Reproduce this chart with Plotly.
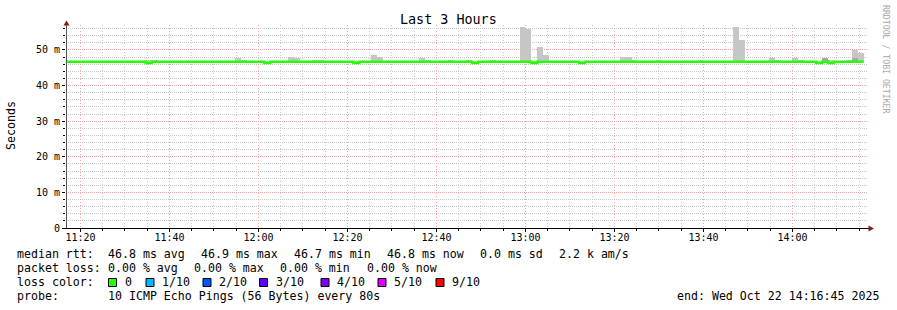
import plotly.graph_objects as go
import pandas as pd

# ---------------- data ----------------
start_time = "2025-10-22 11:16:00"   # first 80 s step
step_period = "80s"
view_start = "2025-10-22 11:16:45"
view_end = "2025-10-22 14:16:45"

median_ms = [
    46.65, 46.65, 46.65, 46.65, 46.65, 46.65, 46.65, 46.65, 46.65, 46.65, 46.65, 46.65, 46.65, 46.65, 46.3,
    46.65, 46.65, 46.65, 46.65, 46.65, 46.65, 46.65, 46.65, 46.65, 46.65, 46.65, 46.65, 46.65, 46.65, 46.65,
    46.65, 46.65, 46.65, 46.65, 46.3, 46.65, 46.65, 46.65, 46.65, 46.65, 46.65, 46.65, 46.65, 46.65, 46.65,
    46.65, 46.65, 46.65, 46.65, 46.3, 46.65, 46.65, 46.65, 46.65, 46.65, 46.65, 46.65, 46.65, 46.65, 46.65,
    46.65, 46.65, 46.65, 46.65, 46.65, 46.65, 46.65, 46.65, 46.65, 46.3, 46.65, 46.65, 46.65, 46.65, 46.65,
    46.65, 46.65, 46.65, 46.65, 46.3, 46.65, 46.65, 46.65, 46.65, 46.65, 46.65, 46.65, 46.3, 46.65, 46.65,
    46.65, 46.65, 46.65, 46.65, 46.65, 46.65, 46.65, 46.65, 46.65, 46.65, 46.65, 46.65, 46.65, 46.65, 46.65,
    46.65, 46.65, 46.65, 46.65, 46.65, 46.65, 46.65, 46.65, 46.65, 46.65, 46.65, 46.65, 46.65, 46.65, 46.65,
    46.65, 46.65, 46.65, 46.65, 46.65, 46.65, 46.65, 46.3, 46.65, 46.3, 46.65, 46.65, 46.65, 46.65, 46.65,
]

smoke_min_ms = [
    46.5, 46.5, 46.5, 46.5, 46.5, 46.5, 46.5, 46.5, 46.5, 46.5, 46.5, 46.5, 46.5, 46.5, 46.2,
    46.5, 46.5, 46.5, 46.5, 46.5, 46.5, 46.5, 46.5, 46.5, 46.5, 46.5, 46.5, 46.5, 46.5, 46.5,
    46.5, 46.5, 46.5, 46.5, 46.2, 46.5, 46.5, 46.5, 46.5, 46.5, 46.5, 46.5, 46.5, 46.5, 46.5,
    46.5, 46.5, 46.5, 46.5, 46.2, 46.5, 46.5, 46.5, 46.5, 46.5, 46.5, 46.5, 46.5, 46.5, 46.5,
    46.5, 46.5, 46.5, 46.5, 46.5, 46.5, 46.5, 46.5, 46.5, 46.2, 46.5, 46.5, 46.5, 46.5, 46.5,
    46.5, 46.5, 46.5, 46.5, 46.2, 46.5, 46.5, 46.5, 46.5, 46.5, 46.5, 46.5, 46.2, 46.5, 46.5,
    46.5, 46.5, 46.5, 46.5, 46.5, 46.5, 46.5, 46.5, 46.5, 46.5, 46.5, 46.5, 46.5, 46.5, 46.5,
    46.5, 46.5, 46.5, 46.5, 46.5, 46.5, 46.5, 46.5, 46.5, 46.5, 46.5, 46.5, 46.5, 46.5, 46.5,
    46.5, 46.5, 46.5, 46.5, 46.5, 46.5, 46.5, 46.2, 46.5, 46.2, 46.5, 46.5, 46.5, 46.5, 46.5,
]

smoke_max_ms = [
    46.9, 46.9, 46.9, 46.9, 46.9, 46.9, 46.9, 46.9, 46.9, 46.9, 46.9, 46.9, 46.9, 46.9, 47.2,
    47.2, 46.9, 46.9, 46.9, 46.9, 46.9, 46.9, 46.9, 46.9, 46.9, 46.9, 46.9, 46.9, 46.9, 47.6,
    47.2, 46.9, 46.9, 46.9, 46.9, 46.9, 46.9, 46.9, 48.1, 47.6, 46.9, 46.9, 47.2, 47.2, 46.9,
    46.9, 46.9, 46.9, 46.9, 46.9, 46.9, 46.9, 48.6, 48.1, 46.9, 46.9, 46.9, 46.9, 46.9, 46.9,
    47.6, 47.2, 46.9, 46.9, 46.9, 47.2, 46.9, 46.9, 47.2, 46.9, 46.9, 46.9, 47.2, 46.9, 46.9,
    46.9, 46.9, 56.3, 56.0, 46.9, 50.7, 48.7, 46.9, 46.9, 46.9, 46.9, 46.9, 46.9, 46.9, 46.9,
    46.9, 46.9, 46.9, 46.9, 48.1, 48.1, 47.2, 46.9, 46.9, 46.9, 47.2, 46.9, 46.9, 46.9, 46.9,
    46.9, 46.9, 47.2, 46.9, 46.9, 46.9, 46.9, 46.9, 56.3, 52.9, 46.9, 46.9, 46.9, 46.9, 47.6,
    47.2, 46.9, 46.9, 47.8, 47.2, 46.9, 46.9, 46.9, 47.6, 47.2, 46.9, 46.9, 47.2, 50.0, 49.2,
]

dark_step_index = [128, 133]
dark_top_ms = [47.6, 47.6]

y_tick_vals = [0, 10, 20, 30, 40, 50]
y_tick_text = ["0", "10 m", "20 m", "30 m", "40 m", "50 m"]

title_text = "Last 3 Hours"
y_title = "Seconds"
rtt_label = "median rtt:"
rtt_stats = ["46.8 ms avg", "46.9 ms max", "46.7 ms min", "46.8 ms now", "0.0 ms sd", "2.2 k am/s"]
loss_label = "packet loss:"
loss_stats = ["0.00 % avg", "0.00 % max", "0.00 % min", "0.00 % now"]
color_label = "loss color:"
loss_labels = ["0", "1/10", "2/10", "3/10", "4/10", "5/10", "9/10"]
loss_colors = ["#26ff00", "#00b8ff", "#0059ff", "#5e00ff", "#7e00ff", "#dd00ff", "#ff0000"]
probe_label = "probe:"
probe_text = "10 ICMP Echo Pings (56 Bytes) every 80s"
end_text = "end: Wed Oct 22 14:16:45 2025"
watermark = "RRDTOOL / TOBI OETIKER"

# ---------------- layout geometry (pixels) ----------------
W, H = 897, 310
L, R, T, B = 66, 30, 25, 82
PW, PH = W - L - R, H - T - B
FONT = "DejaVu Sans Mono"


def px(xp):
    return (xp - L) / PW


def py(yp):
    return (H - B - yp) / PH


step_times = pd.date_range(start_time, periods=len(median_ms), freq=step_period)
step_ms = pd.Timedelta(step_period).total_seconds() * 1000

fig = go.Figure()

# smoke (min..max of pings)
fig.add_trace(go.Bar(
    x=step_times, y=[mx - mn for mx, mn in zip(smoke_max_ms, smoke_min_ms)], base=smoke_min_ms,
    width=step_ms, offset=0, marker=dict(color="#c6c6c6", line=dict(width=0)),
    hoverinfo="skip", showlegend=False,
))
# darker inner smoke
fig.add_trace(go.Bar(
    x=[step_times[i] for i in dark_step_index],
    y=[t - smoke_min_ms[i] for i, t in zip(dark_step_index, dark_top_ms)],
    base=[smoke_min_ms[i] for i in dark_step_index],
    width=step_ms, offset=0, marker=dict(color="#a8a8a8", line=dict(width=0)),
    hoverinfo="skip", showlegend=False,
))
# median line
line_x = list(step_times) + [step_times[-1] + pd.Timedelta(step_period)]
line_y = median_ms + [median_ms[-1]]
fig.add_trace(go.Scatter(
    x=line_x, y=line_y, mode="lines", line=dict(color=loss_colors[0], width=2.5, shape="hv"),
    hoverinfo="skip", showlegend=False,
))

grid_minor = "#c8c8c8"
grid_major = "#f4a4a4"

fig.update_layout(
    width=W, height=H, margin=dict(l=L, r=R, t=T, b=B, pad=0),
    paper_bgcolor="white", plot_bgcolor="white",
    barmode="overlay", bargap=0,
    font=dict(family=FONT, color="#000000"),
    xaxis=dict(
        type="date", range=[view_start, view_end], tickformat="%H:%M",
        tick0="2025-10-22 11:00:00", dtick=20 * 60 * 1000,
        showgrid=True, gridcolor=grid_major, griddash="1px,2px", gridwidth=1,
        ticks="outside", ticklen=3, tickcolor="#000000", ticklabelstandoff=-3,
        minor=dict(tick0="2025-10-22 11:00:00", dtick=5 * 60 * 1000, showgrid=True,
                   gridcolor=grid_minor, griddash="1px,2px", gridwidth=1,
                   ticks="outside", ticklen=2, tickcolor="#000000"),
        showline=False, zeroline=False, tickfont=dict(family=FONT, size=10, color="#000000"),
        fixedrange=True,
    ),
    yaxis=dict(
        range=[0, 57], tickvals=y_tick_vals, ticktext=y_tick_text,
        showgrid=True, gridcolor=grid_major, griddash="1px,1px", gridwidth=1,
        ticks="outside", ticklen=3, tickcolor="#000000",
        minor=dict(dtick=2, showgrid=True, gridcolor=grid_minor, griddash="1px,1px",
                   gridwidth=1, ticks="outside", ticklen=2, tickcolor="#000000"),
        showline=False, zeroline=False, tickfont=dict(family=FONT, size=10, color="#000000"),
        fixedrange=True,
    ),
)

shapes = []
# axis lines
shapes.append(dict(type="line", xref="paper", yref="paper", x0=px(66.5), x1=px(66.5), y0=py(228), y1=py(24),
                   line=dict(color="#555555", width=1)))
shapes.append(dict(type="line", xref="paper", yref="paper", x0=px(62), x1=px(869), y0=py(228.5), y1=py(228.5),
                   line=dict(color="#000000", width=1)))
arrow_col = "#8b1a1a"
shapes.append(dict(type="path", xref="paper", yref="paper",
                   path=f"M {px(66.5)} {py(20.5)} L {px(63.5)} {py(25.5)} L {px(69.5)} {py(25.5)} Z",
                   fillcolor=arrow_col, line=dict(color=arrow_col, width=0)))
shapes.append(dict(type="path", xref="paper", yref="paper",
                   path=f"M {px(874)} {py(228.5)} L {px(868.5)} {py(225.5)} L {px(868.5)} {py(231.5)} Z",
                   fillcolor=arrow_col, line=dict(color=arrow_col, width=0)))

annotations = []


def add_text(text, x_px, y_px, size=11.6, xanchor="left", color="#000000", angle=0):
    annotations.append(dict(text=text, x=px(x_px), y=py(y_px), xref="paper", yref="paper",
                            xanchor=xanchor, yanchor="middle", showarrow=False, borderpad=0,
                            textangle=angle, font=dict(family=FONT, size=size, color=color)))


add_text(title_text, 448.5, 19.5, size=13.4, xanchor="center")
add_text(y_title, 11, 126, xanchor="center", angle=-90)
add_text(watermark, 886, 59, size=8.2, xanchor="center", color="#a8a8a8", angle=90)

row_y = [254, 268, 282, 296]
add_text(rtt_label, 16, row_y[0])
for s, xp in zip(rtt_stats, [107, 200, 293, 386, 479, 558]):
    add_text(s, xp, row_y[0])
add_text(loss_label, 16, row_y[1])
for s, xp in zip(loss_stats, [107, 193, 279, 366]):
    add_text(s, xp, row_y[1])
add_text(color_label, 16, row_y[2])
square_x = [108.5, 146, 203, 259.5, 321, 378, 436]
for lab, col, sx in zip(loss_labels, loss_colors, square_x):
    shapes.append(dict(type="rect", xref="paper", yref="paper", x0=px(sx), x1=px(sx + 8),
                       y0=py(278.5), y1=py(286.5), fillcolor=col, line=dict(color="#000000", width=1)))
    add_text(lab, sx + 15, row_y[2])
add_text(probe_label, 16, row_y[3])
add_text(probe_text, 107, row_y[3])
add_text(end_text, 880, row_y[3], xanchor="right")

fig.update_layout(shapes=shapes, annotations=annotations)
fig.write_html("out.html")
